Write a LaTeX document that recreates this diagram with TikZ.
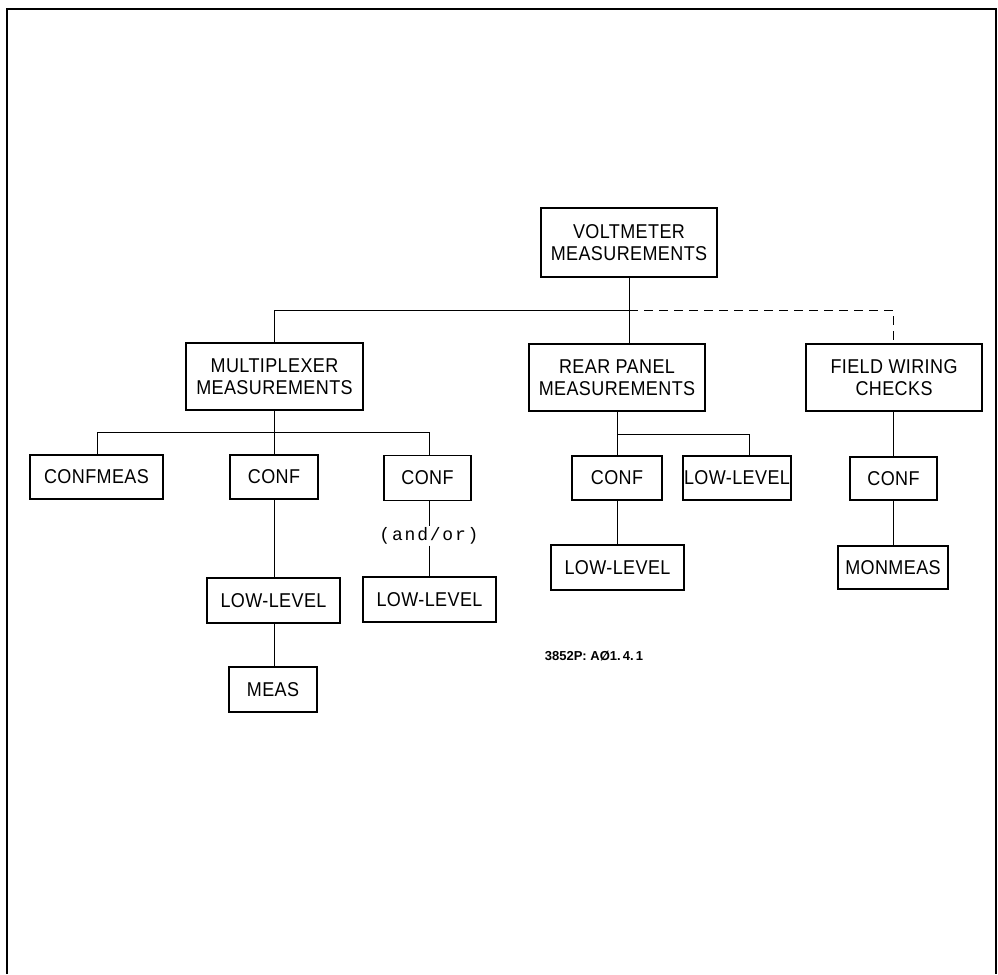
\documentclass[tikz,border=0pt]{standalone}
\usepackage{fontspec}
\setmainfont{Liberation Sans}
\newfontfamily\boxfnt[FakeStretch=0.9,LetterSpace=2]{Liberation Sans}
\newfontfamily\monofnt[LetterSpace=10]{Liberation Mono}
\begin{document}
\begin{tikzpicture}[x=1pt,y=-1pt,
  box/.style={draw,line width=1.1pt,inner sep=0pt,align=center,
    font=\boxfnt\fontsize{20}{22}\selectfont},
  conn/.style={line width=1pt},
  dconn/.style={line width=1pt,dash pattern=on 9pt off 6pt}]
\useasboundingbox (0,0) rectangle (998,974);
% frame
\draw[line width=2pt] (7,974) -- (7,9) -- (996,9) -- (996,974);
% nodes
\node[box,minimum width=176pt,minimum height=69pt] (volt) at (629,242.5) {VOLTMETER\\MEASUREMENTS};
\node[box,minimum width=177pt,minimum height=67pt] (mux) at (274.5,376.5) {MULTIPLEXER\\MEASUREMENTS};
\node[box,minimum width=176pt,minimum height=67pt] (rear) at (617,377.5) {REAR PANEL\\MEASUREMENTS};
\node[box,minimum width=176pt,minimum height=67pt] (field) at (894,377.5) {FIELD WIRING\\CHECKS};
\node[box,minimum width=133pt,minimum height=44pt] (confmeas) at (96.5,477) {CONFMEAS};
\node[box,minimum width=88pt,minimum height=44pt] (conf1) at (274,477) {CONF};
\node[box,minimum width=87pt,minimum height=45pt] (conf2) at (427.5,478) {CONF};
\node[box,minimum width=90pt,minimum height=44pt] (conf3) at (617,478) {CONF};
\node[box,minimum width=108pt,minimum height=44pt] (ll3) at (737,478) {LOW-LEVEL};
\node[box,minimum width=87pt,minimum height=43pt] (conf4) at (893.5,478.5) {CONF};
\node[box,minimum width=133pt,minimum height=45pt] (ll1) at (273.5,600.5) {LOW-LEVEL};
\node[box,minimum width=133pt,minimum height=45pt] (ll2) at (429.5,599.5) {LOW-LEVEL};
\node[box,minimum width=133pt,minimum height=45pt] (ll4) at (617.5,567.5) {LOW-LEVEL};
\node[box,minimum width=88pt,minimum height=45pt] (meas) at (273,689.5) {MEAS};
\node[box,minimum width=110pt,minimum height=43pt] (monmeas) at (893,567.5) {MONMEAS};
\node[inner sep=1pt,font=\monofnt\fontsize{18}{20}\selectfont] (andor) at (429,536) {(and/or)};
\node[inner sep=0pt,font=\bfseries\fontsize{13}{15}\selectfont] (code) at (594,656) {3852P: AØ1.\,4.\,1};
% junctions
\coordinate (jv) at (629,310);
\coordinate (jm) at (274,310);
\coordinate (jf) at (893,310);
\coordinate (jmux) at (274,432);
\coordinate (jcm) at (97,432);
\coordinate (jc2) at (429,432);
\coordinate (jr) at (617,434);
\coordinate (jl3) at (749,434);
% connectors
\draw[conn] (volt.south -| jv) -- (rear.north -| jv);
\draw[conn] (jv) -- (jm) -- (mux.north -| jm);
\draw[dconn] (jv) -- (jf) -- (field.north -| jf);
\draw[conn] (mux.south -| jmux) -- (jmux);
\draw[conn] (confmeas.north -| jcm) -- (jcm) -- (jc2) -- (conf2.north -| jc2);
\draw[conn] (jmux) -- (conf1.north -| jmux);
\draw[conn] (conf1.south -| jmux) -- (ll1.north -| jmux);
\draw[conn] (ll1.south -| jmux) -- (meas.north -| jmux);
\draw[conn] (conf2.south -| jc2) -- (andor.north -| jc2);
\draw[conn] (andor.south -| jc2) -- (ll2.north -| jc2);
\draw[conn] (rear.south -| jr) -- (jr) -- (jl3) -- (ll3.north -| jl3);
\draw[conn] (jr) -- (conf3.north -| jr);
\draw[conn] (conf3.south -| jr) -- (ll4.north -| jr);
\draw[conn] (field.south -| jf) -- (conf4.north -| jf);
\draw[conn] (conf4.south -| jf) -- (monmeas.north -| jf);
\end{tikzpicture}
\end{document}
